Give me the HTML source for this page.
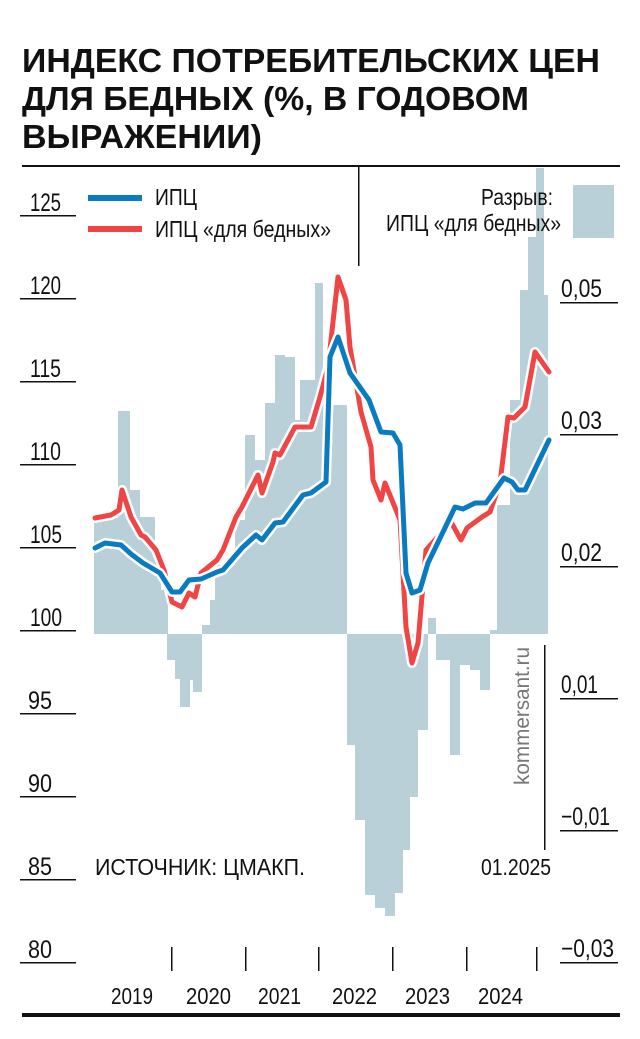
<!DOCTYPE html>
<html><head><meta charset="utf-8"><style>
body{margin:0;background:#fff;width:640px;height:1039px;overflow:hidden}
svg{display:block}
text{font-family:"Liberation Sans",sans-serif}
</style></head><body>
<svg width="640" height="1039" viewBox="0 0 640 1039">
<g font-weight="bold" font-size="33" fill="#111">
<text x="22" y="72" textLength="578" lengthAdjust="spacingAndGlyphs">ИНДЕКС ПОТРЕБИТЕЛЬСКИХ ЦЕН</text>
<text x="22" y="110" textLength="507" lengthAdjust="spacingAndGlyphs">ДЛЯ БЕДНЫХ (%, В ГОДОВОМ</text>
<text x="22" y="148" textLength="240" lengthAdjust="spacingAndGlyphs">ВЫРАЖЕНИИ)</text>
</g>
<rect x="22" y="165" width="598" height="2" fill="#111"/>
<rect x="358" y="166" width="1.5" height="100" fill="#111"/>
<g fill="#b9d0d9">
<rect x="94" y="518" width="25" height="116"/>
<rect x="118" y="411" width="12" height="223"/>
<rect x="130" y="490" width="10" height="144"/>
<rect x="140" y="517" width="15" height="117"/>
<rect x="155" y="550" width="6" height="84"/>
<rect x="160" y="590" width="8" height="44"/>
<rect x="167" y="634" width="13" height="26"/>
<rect x="175" y="634" width="5" height="45"/>
<rect x="180" y="634" width="10" height="73"/>
<rect x="190" y="634" width="3" height="46"/>
<rect x="193" y="634" width="9" height="58"/>
<rect x="202" y="625" width="8" height="9"/>
<rect x="210" y="600" width="5" height="34"/>
<rect x="215" y="565" width="20" height="69"/>
<rect x="235" y="520" width="10" height="114"/>
<rect x="245" y="435" width="10" height="199"/>
<rect x="255" y="460" width="10" height="174"/>
<rect x="265" y="403" width="10" height="231"/>
<rect x="275" y="355" width="10" height="279"/>
<rect x="285" y="357" width="10" height="277"/>
<rect x="295" y="420" width="5" height="214"/>
<rect x="300" y="380" width="15" height="254"/>
<rect x="315" y="283" width="8" height="351"/>
<rect x="323" y="405" width="12" height="229"/>
<rect x="335" y="405" width="12" height="229"/>
<rect x="347" y="634" width="8" height="111"/>
<rect x="355" y="634" width="10" height="186"/>
<rect x="365" y="634" width="10" height="261"/>
<rect x="375" y="634" width="10" height="274"/>
<rect x="385" y="634" width="10" height="282"/>
<rect x="395" y="634" width="8" height="259"/>
<rect x="403" y="634" width="7" height="216"/>
<rect x="410" y="634" width="8" height="163"/>
<rect x="418" y="634" width="10" height="96"/>
<rect x="428" y="618" width="8" height="16"/>
<rect x="436" y="634" width="14" height="26"/>
<rect x="450" y="634" width="10" height="121"/>
<rect x="460" y="634" width="10" height="31"/>
<rect x="470" y="634" width="10" height="36"/>
<rect x="480" y="634" width="10" height="56"/>
<rect x="490" y="630" width="7" height="4"/>
<rect x="497" y="505" width="13" height="129"/>
<rect x="510" y="400" width="10" height="234"/>
<rect x="520" y="290" width="8" height="344"/>
<rect x="528" y="237" width="8" height="397"/>
<rect x="536" y="168" width="8" height="466"/>
<rect x="544" y="295" width="4" height="339"/>
</g>
<g fill="none" stroke-linejoin="round" stroke-linecap="round">
<polyline stroke="#fff" stroke-width="10" points="95,518 111,515 119,510 122,490 131,517 141,535 145,537 156,550 164,570 172,602 182,607 189,593 195,597 201,573 217,560 223,550 236,517 242,507 258,475 262,493 273,462 275,453 280,455 295,427 311,427 320,397 328,367 338,277 346,300 350,347 361,412 371,447 373,480 381,500 385,483 396,510 400,520 406,627 412,663 418,643 426,550 451,522 461,540 467,528 482,517 490,512 500,483 508,417 514,418 525,407 535,352 549,372"/>
<polyline stroke="#f04545" stroke-width="5" points="95,518 111,515 119,510 122,490 131,517 141,535 145,537 156,550 164,570 172,602 182,607 189,593 195,597 201,573 217,560 223,550 236,517 242,507 258,475 262,493 273,462 275,453 280,455 295,427 311,427 320,397 328,367 338,277 346,300 350,347 361,412 371,447 373,480 381,500 385,483 396,510 400,520 406,627 412,663 418,643 426,550 451,522 461,540 467,528 482,517 490,512 500,483 508,417 514,418 525,407 535,352 549,372"/>
<polyline stroke="#fff" stroke-width="10" points="95,548 105,543 121,545 131,554 143,563 160,573 172,592 180,592 189,580 201,579 217,572 223,570 242,548 256,535 262,540 275,523 283,522 303,495 311,493 326,482 330,357 338,337 350,373 369,400 381,432 393,433 400,445 406,573 412,593 420,590 428,563 443,532 455,507 463,509 475,503 486,503 504,478 512,482 518,490 525,490 549,440"/>
<polyline stroke="#0a7bc0" stroke-width="5" points="95,548 105,543 121,545 131,554 143,563 160,573 172,592 180,592 189,580 201,579 217,572 223,570 242,548 256,535 262,540 275,523 283,522 303,495 311,493 326,482 330,357 338,337 350,373 369,400 381,432 393,433 400,445 406,573 412,593 420,590 428,563 443,532 455,507 463,509 475,503 486,503 504,478 512,482 518,490 525,490 549,440"/>
</g>
<g font-size="25" fill="#111">
<text x="30" y="211" textLength="31" lengthAdjust="spacingAndGlyphs">125</text>
<text x="30" y="294" textLength="31" lengthAdjust="spacingAndGlyphs">120</text>
<text x="30" y="377" textLength="31" lengthAdjust="spacingAndGlyphs">115</text>
<text x="30" y="460" textLength="31" lengthAdjust="spacingAndGlyphs">110</text>
<text x="30" y="543" textLength="32" lengthAdjust="spacingAndGlyphs">105</text>
<text x="30" y="626" textLength="32" lengthAdjust="spacingAndGlyphs">100</text>
<text x="28" y="709" textLength="24" lengthAdjust="spacingAndGlyphs">95</text>
<text x="28" y="792" textLength="24" lengthAdjust="spacingAndGlyphs">90</text>
<text x="28" y="875" textLength="24" lengthAdjust="spacingAndGlyphs">85</text>
<text x="28" y="958" textLength="24" lengthAdjust="spacingAndGlyphs">80</text>
<text x="561" y="297" textLength="41" lengthAdjust="spacingAndGlyphs">0,05</text>
<text x="561" y="429" textLength="41" lengthAdjust="spacingAndGlyphs">0,03</text>
<text x="561" y="561" textLength="41" lengthAdjust="spacingAndGlyphs">0,02</text>
<text x="561" y="693" textLength="37" lengthAdjust="spacingAndGlyphs">0,01</text>
<text x="561" y="825" textLength="49" lengthAdjust="spacingAndGlyphs">−0,01</text>
<text x="561" y="957" textLength="53" lengthAdjust="spacingAndGlyphs">−0,03</text>
</g>
<g fill="#111">
<rect x="20" y="215" width="56" height="1.5"/><rect x="20" y="298" width="56" height="1.5"/>
<rect x="20" y="381" width="56" height="1.5"/><rect x="20" y="464" width="56" height="1.5"/>
<rect x="20" y="547" width="56" height="1.5"/><rect x="20" y="630" width="56" height="1.5"/>
<rect x="20" y="713" width="56" height="1.5"/><rect x="20" y="796" width="56" height="1.5"/>
<rect x="20" y="879" width="56" height="1.5"/><rect x="20" y="962" width="56" height="1.5"/>
<rect x="560" y="302" width="58" height="1.5"/><rect x="560" y="434" width="58" height="1.5"/>
<rect x="560" y="566" width="58" height="1.5"/><rect x="560" y="698" width="58" height="1.5"/>
<rect x="560" y="830" width="58" height="1.5"/><rect x="560" y="962" width="58" height="1.5"/>
<rect x="171" y="947" width="1.5" height="24"/><rect x="245" y="947" width="1.5" height="24"/>
<rect x="318" y="947" width="1.5" height="24"/><rect x="392" y="947" width="1.5" height="24"/>
<rect x="466" y="947" width="1.5" height="24"/><rect x="536" y="947" width="1.5" height="24"/>
<rect x="544" y="645" width="1.5" height="205"/>
<rect x="22" y="1013" width="598" height="4"/>
</g>
<g font-size="23" fill="#111">
<text x="111" y="1004" textLength="42" lengthAdjust="spacingAndGlyphs">2019</text>
<text x="186" y="1004" textLength="45" lengthAdjust="spacingAndGlyphs">2020</text>
<text x="258" y="1004" textLength="43" lengthAdjust="spacingAndGlyphs">2021</text>
<text x="332" y="1004" textLength="45" lengthAdjust="spacingAndGlyphs">2022</text>
<text x="405" y="1004" textLength="45" lengthAdjust="spacingAndGlyphs">2023</text>
<text x="478" y="1004" textLength="45" lengthAdjust="spacingAndGlyphs">2024</text>
<text x="95" y="875" textLength="210" lengthAdjust="spacingAndGlyphs">ИСТОЧНИК: ЦМАКП.</text>
<text x="481" y="875" textLength="70" lengthAdjust="spacingAndGlyphs">01.2025</text>
<text x="155" y="205" textLength="42" lengthAdjust="spacingAndGlyphs">ИПЦ</text>
<text x="155" y="237" textLength="176" lengthAdjust="spacingAndGlyphs">ИПЦ «для бедных»</text>
<text x="481" y="205" textLength="72" lengthAdjust="spacingAndGlyphs">Разрыв:</text>
<text x="386" y="231" textLength="175" lengthAdjust="spacingAndGlyphs">ИПЦ «для бедных»</text>
</g>
<rect x="88" y="195" width="54" height="6" fill="#0a7bc0"/>
<rect x="88" y="226" width="54" height="6" fill="#f04545"/>
<rect x="573" y="185" width="41" height="53" fill="#b9d0d9"/>
<text transform="translate(529,785) rotate(-90)" font-size="21" fill="#777" textLength="138" lengthAdjust="spacingAndGlyphs">kommersant.ru</text>
</svg>
</body></html>
